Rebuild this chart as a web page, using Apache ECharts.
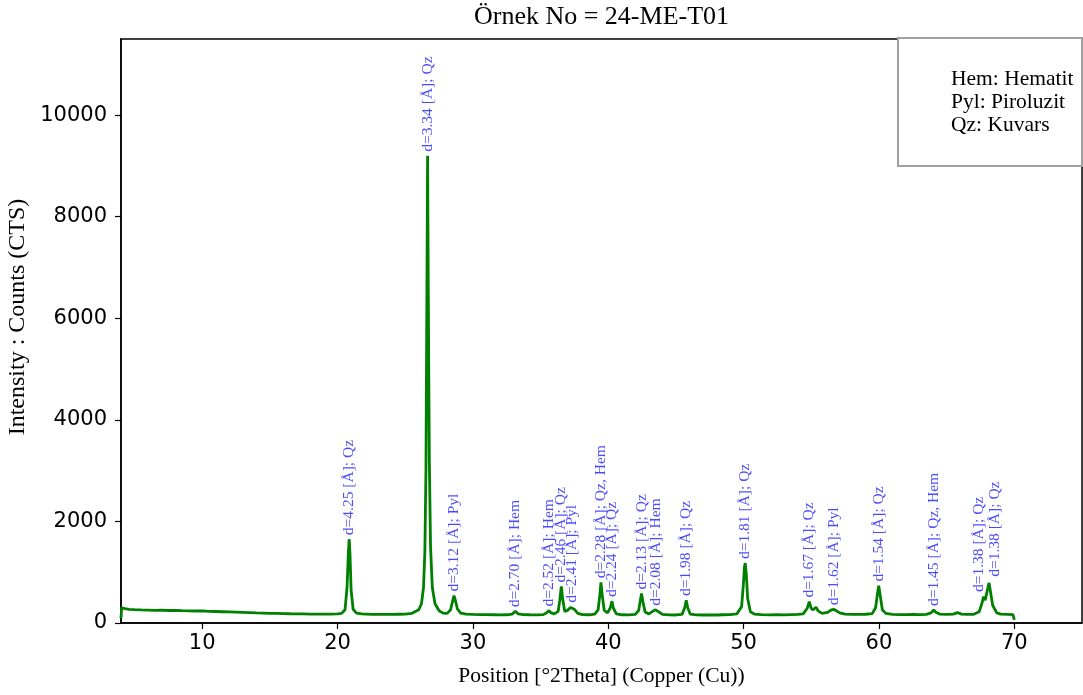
<!DOCTYPE html>
<html>
<head>
<meta charset="utf-8">
<script src="https://cdn.jsdelivr.net/npm/echarts@6/dist/echarts.min.js"></script>
<style>
html,body{margin:0;padding:0;background:#fff;}
#chart{width:1083px;height:695px;}
</style>
</head>
<body>
<div id="chart"></div>
<script>
// ---- data ----
const twoTheta = [4.00,4.05,4.3,4.6,5.0,5.5,6.0,6.5,7.0,7.5,8.0,8.5,9.0,9.5,10.0,10.5,11.0,11.5,12.0,12.5,13.0,13.5,14.0,14.5,15.0,15.5,16.0,16.5,17.0,17.5,18.0,18.5,19.0,19.5,20.0,20.3,20.55,20.7,20.8,20.86,20.92,21.0,21.15,21.4,21.8,22.5,23.0,23.5,24.0,24.5,25.0,25.5,26.0,26.2,26.35,26.45,26.53,26.59,26.65,26.71,26.78,26.87,27.0,27.2,27.5,27.8,28.1,28.35,28.5,28.6,28.7,28.85,29.1,29.5,30.0,30.5,31.0,31.5,32.0,32.5,32.9,33.13,33.35,33.7,34.2,34.7,35.2,35.45,35.6,35.75,36.0,36.3,36.42,36.53,36.63,36.78,37.0,37.2,37.32,37.5,37.75,38.1,38.6,39.0,39.25,39.38,39.46,39.55,39.7,39.95,40.15,40.27,40.38,40.6,41.0,41.5,42.0,42.25,42.37,42.46,42.56,42.72,43.0,43.3,43.5,43.7,44.0,44.5,45.0,45.45,45.65,45.76,45.87,46.05,46.5,47.0,47.5,48.0,48.5,49.0,49.5,49.85,49.98,50.06,50.12,50.2,50.3,50.5,50.8,51.3,52.0,52.5,53.0,53.5,54.0,54.4,54.7,54.85,54.98,55.1,55.35,55.5,55.8,56.2,56.5,56.65,56.85,57.1,57.5,58.0,58.5,59.0,59.5,59.75,59.88,59.98,60.08,60.25,60.5,61.0,61.5,62.0,62.5,63.0,63.5,63.85,64.04,64.2,64.5,65.0,65.5,65.8,66.1,66.5,67.0,67.4,67.6,67.73,67.85,67.95,68.05,68.13,68.22,68.4,68.7,69.0,69.5,69.9,70.0];
const counts = [90,300,285,270,262,258,255,250,252,246,248,243,240,236,238,230,226,222,218,214,210,205,200,196,190,188,186,182,180,178,176,175,174,176,180,190,260,700,1400,1650,1350,650,270,195,178,170,168,170,168,172,175,190,260,380,700,1400,3000,6000,9200,6200,3200,1500,700,380,240,195,190,260,430,540,450,280,195,175,168,165,163,162,160,162,175,230,180,165,162,160,165,200,245,205,180,230,450,720,480,230,250,305,320,270,190,165,162,175,260,560,800,560,250,200,300,430,290,180,162,160,168,250,450,580,420,215,180,235,260,225,170,160,158,170,300,450,300,175,160,158,160,158,162,165,180,320,750,1100,1180,950,480,220,175,165,160,162,160,165,170,180,290,420,300,260,310,240,190,210,260,270,240,200,175,168,170,172,185,300,560,735,560,260,190,170,165,166,168,165,170,200,255,210,175,170,175,205,175,170,172,220,380,520,450,480,700,790,650,350,200,175,170,165,60];

// peak annotations: label anchor position (2θ), anchor height (counts), text
const labelPos = [20.86,26.65,28.60,33.13,35.60,36.53,37.32,39.46,40.27,42.46,43.50,45.76,50.12,54.85,56.65,59.98,64.04,67.41,68.60];
const labelTop = [1650,9200,540,230,245,720,320,800,430,580,260,450,1180,420,270,735,255,530,830];
const labelText = ["d=4.25 [Å]; Qz","d=3.34 [Å]; Qz","d=3.12 [Å]; Pyl","d=2.70 [Å]; Hem","d=2.52 [Å]; Hem","d=2.46 [Å]; Qz","d=2.41 [Å]; Pyl","d=2.28 [Å]; Qz, Hem","d=2.24 [Å]; Qz","d=2.13 [Å]; Qz","d=2.08 [Å]; Hem","d=1.98 [Å]; Qz","d=1.81 [Å]; Qz","d=1.67 [Å]; Qz","d=1.62 [Å]; Pyl","d=1.54 [Å]; Qz","d=1.45 [Å]; Qz, Hem","d=1.38 [Å]; Qz","d=1.38 [Å]; Qz"];

const xTicks = [10,20,30,40,50,60,70];
const yTicks = [0,2000,4000,6000,8000,10000];
const legendLines = ["Hem: Hematit","Pyl: Piroluzit","Qz: Kuvars"];
const titleText = "Örnek No = 24-ME-T01";
const xName = "Position [°2Theta] (Copper (Cu))";
const yName = "Intensity : Counts (CTS)";

// ---- chart ----
const serif = "'Liberation Serif','Times New Roman',serif";
const sans = "'DejaVu Sans',sans-serif";
const lineData = twoTheta.map((x, i) => [x, counts[i]]);
const labelData = labelPos.map((x, i) => ({ value: [x, labelTop[i]], name: labelText[i] }));

const chart = echarts.init(document.getElementById('chart'), null, { renderer: 'canvas' });
chart.setOption({
  animation: false,
  backgroundColor: '#fff',
  grid: { left: 121, right: 1, top: 39, bottom: 72, outerBoundsMode: 'none', containLabel: false,
          show: true, borderColor: '#000', borderWidth: 1.5, backgroundColor: 'transparent' },
  xAxis: {
    type: 'value', min: 4, max: 75,
    name: xName, nameLocation: 'middle', nameGap: 42,
    nameTextStyle: { fontFamily: serif, fontSize: 21.5, color: '#000' },
    axisLine: { show: true, lineStyle: { color: '#000', width: 1.5 } },
    axisTick: { show: true, length: 6, customValues: xTicks, lineStyle: { color: '#000', width: 1.2 } },
    axisLabel: { customValues: xTicks, margin: 10, fontFamily: sans, fontSize: 21, color: '#000', formatter: v => String(v) },
    splitLine: { show: false }
  },
  yAxis: {
    type: 'value', min: 0, max: 11500,
    axisLine: { show: true, lineStyle: { color: '#000', width: 1.5 } },
    axisTick: { show: true, length: 6, customValues: yTicks, lineStyle: { color: '#000', width: 1.2 } },
    axisLabel: { customValues: yTicks, margin: 14, fontFamily: sans, fontSize: 21, color: '#000', formatter: v => String(v) },
    splitLine: { show: false }
  },
  series: [
    {
      type: 'line', data: lineData, showSymbol: false, symbol: 'none',
      lineStyle: { color: '#008000', width: 2.8 }, z: 2
    },
    {
      type: 'scatter', data: labelData, symbol: 'circle', symbolSize: 0.1,
      itemStyle: { color: 'transparent' }, z: 3,
      label: {
        show: true, formatter: p => p.name, position: 'top', distance: 4,
        rotate: 90, align: 'left', verticalAlign: 'middle',
        fontFamily: serif, fontSize: 15.5, color: '#1c1cff'
      }
    }
  ],
  graphic: [
    { type: 'text', x: 601.5, y: 17, z: 10,
      style: { text: titleText, font: "26px 'Liberation Serif', serif", fill: '#000', textAlign: 'center', textVerticalAlign: 'middle' } },
    { type: 'text', x: 18, y: 317, rotation: Math.PI / 2, z: 10,
      style: { text: yName, font: "24px 'Liberation Serif', serif", fill: '#000', textAlign: 'center', textVerticalAlign: 'middle' } },
    { type: 'rect', shape: { x: 898, y: 38, width: 184, height: 128 }, z: 10,
      style: { fill: '#fff', stroke: '#a0a0a0', lineWidth: 2 } },
    { type: 'text', x: 951, y: 68, z: 11,
      style: { text: legendLines.join('\n'), font: "21.5px 'Liberation Serif', serif", lineHeight: 23, fill: '#000', textAlign: 'left', textVerticalAlign: 'top' } }
  ]
});
</script>
</body>
</html>
